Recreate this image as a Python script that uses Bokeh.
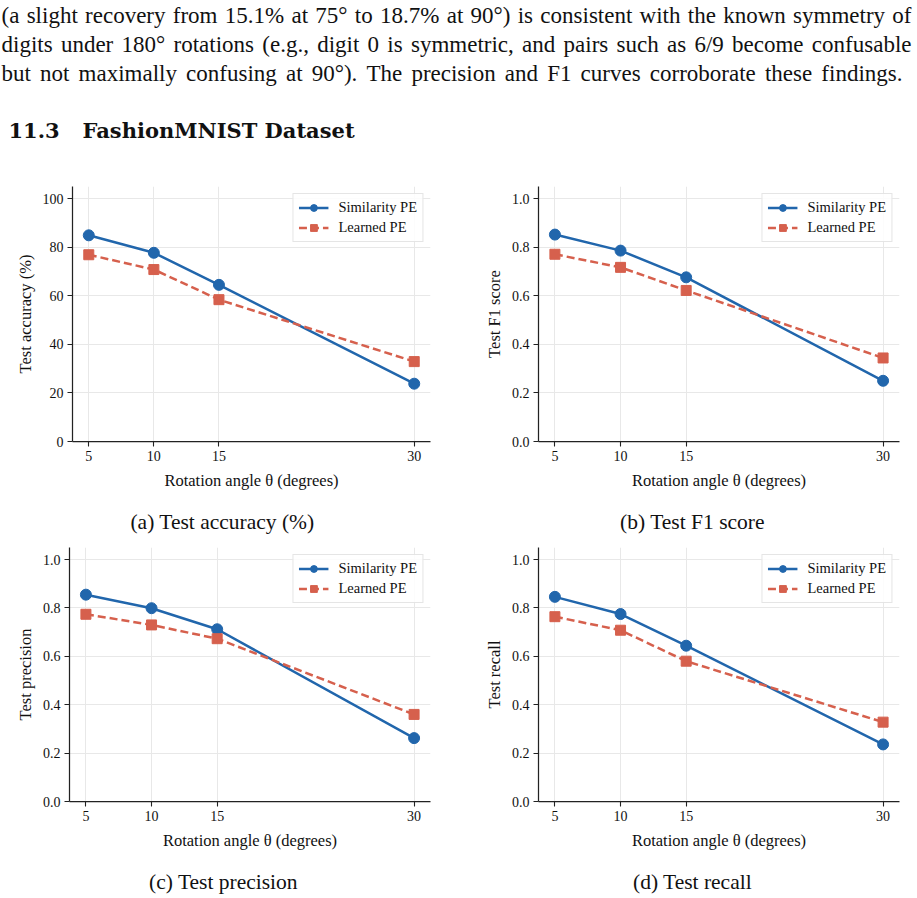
from bokeh.plotting import figure
from bokeh.layouts import column, row
from bokeh.models import Range1d, FixedTicker, PrintfTickFormatter, Legend, LegendItem
from bokeh.core.properties import value
from bokeh.embed import file_html
from bokeh.resources import INLINE

# ---------------- data ----------------
angles = [5, 10, 15, 30]
acc_sim = [84.9, 77.7, 64.5, 23.8]
acc_learn = [76.9, 70.8, 58.4, 32.9]
f1_sim = [0.852, 0.786, 0.676, 0.250]
f1_learn = [0.771, 0.717, 0.622, 0.344]
prec_sim = [0.855, 0.799, 0.712, 0.262]
prec_learn = [0.774, 0.730, 0.673, 0.360]
rec_sim = [0.846, 0.775, 0.644, 0.236]
rec_learn = [0.764, 0.708, 0.580, 0.328]
acc_ticks = [0, 20, 40, 60, 80, 100]
frac_ticks = [0.0, 0.2, 0.4, 0.6, 0.8, 1.0]
series_names = ["Similarity PE", "Learned PE"]
x_label = "Rotation angle \u03b8 (degrees)"
y_labels = ["Test accuracy (%)", "Test F1 score", "Test precision", "Test recall"]
captions = ["(a) Test accuracy (%)", "(b) Test F1 score", "(c) Test precision", "(d) Test recall"]

para_lines = [
    "(a slight recovery from 15.1% at 75\u00b0 to 18.7% at 90\u00b0) is consistent with the known symmetry of",
    "digits under 180\u00b0 rotations (e.g., digit 0 is symmetric, and pairs such as 6/9 become confusable",
    "but not maximally confusing at 90\u00b0). The precision and F1 curves corroborate these findings.",
]
heading_num = "11.3"
heading_text = "FashionMNIST Dataset"

BLUE = "#2166ac"
RED = "#d6604d"
SERIF = "Liberation Serif"
INK = "#111111"

# Times / Liberation Serif advance widths (1/1000 em) used to justify the paragraph
TW = {" ": 250, "(": 333, ")": 333, "%": 833, ".": 250, ",": 250, "/": 278, "\u00b0": 400,
      "a": 444, "b": 500, "c": 444, "d": 500, "e": 444, "f": 333, "g": 500, "h": 500,
      "i": 278, "j": 278, "k": 500, "l": 278, "m": 778, "n": 500, "o": 500, "p": 500,
      "q": 500, "r": 333, "s": 389, "t": 278, "u": 500, "v": 500, "w": 722, "x": 500,
      "y": 500, "z": 444, "T": 611, "F": 556}


def word_width(w, size):
    return sum(TW.get(ch, 500) for ch in w) / 1000.0 * size


def justify(line, x0, x1, size):
    words = line.split(" ")
    widths = [word_width(w, size) for w in words]
    gap = (x1 - x0 - sum(widths)) / (len(words) - 1)
    xs, x = [], x0
    for wd in widths:
        xs.append(x)
        x += wd + gap
    return words, xs


def panel(ys, yl, ylabel, yticks, ymax, fmt, w, h, bl, br, bt, bb):
    p = figure(width=w, height=h, x_range=Range1d(3.75, 31.25), y_range=Range1d(0, ymax),
               output_backend="svg", toolbar_location=None,
               min_border_left=bl, min_border_right=br, min_border_top=bt, min_border_bottom=bb)
    p.outline_line_color = None
    p.background_fill_color = "white"
    p.border_fill_color = "white"

    p.xaxis.ticker = FixedTicker(ticks=angles)
    p.yaxis.ticker = FixedTicker(ticks=yticks)
    if fmt:
        p.yaxis.formatter = PrintfTickFormatter(format=fmt)
    for ax in (p.xaxis, p.yaxis):
        ax.axis_line_color = "#222222"
        ax.axis_line_width = 1.25
        ax.major_tick_line_color = "#222222"
        ax.major_tick_line_width = 1.1
        ax.major_tick_out = 5
        ax.major_tick_in = 0
        ax.minor_tick_line_color = None
        ax.major_label_text_font = SERIF
        ax.major_label_text_font_size = "14px"
        ax.major_label_text_color = INK
        ax.axis_label_text_font = SERIF
        ax.axis_label_text_font_style = "normal"
        ax.axis_label_text_font_size = "16.5px"
        ax.axis_label_text_color = INK
        ax.major_label_standoff = 4
        ax.axis_label_standoff = 7
    p.yaxis.axis_label_standoff = 5
    p.xaxis.axis_label = x_label
    p.yaxis.axis_label = ylabel
    p.grid.grid_line_color = "#e8e8e8"
    p.grid.grid_line_width = 1

    r1 = p.line(angles, ys, line_color=BLUE, line_width=2.5)
    r1m = p.scatter(angles, ys, marker="circle", size=11, fill_color=BLUE, line_color=BLUE)
    r2 = p.line(angles, yl, line_color=RED, line_width=2.5, line_dash="8 4")
    r2m = p.scatter(angles, yl, marker="square", size=10, fill_color=RED, line_color=RED)

    legend = Legend(items=[LegendItem(label=series_names[0], renderers=[r1, r1m]),
                           LegendItem(label=series_names[1], renderers=[r2, r2m])],
                    location="top_right", margin=7, padding=5, spacing=3,
                    glyph_width=30, glyph_height=17, label_height=17, label_standoff=10,
                    label_text_font=SERIF, label_text_font_size="14.5px",
                    label_text_color=INK,
                    border_line_color="#cccccc", border_line_width=1,
                    background_fill_color="white", background_fill_alpha=0.85)
    p.add_layout(legend)
    return p


def text_strip(height):
    s = figure(width=917, height=height, x_range=Range1d(0, 917), y_range=Range1d(height, 0),
               output_backend="svg", toolbar_location=None, min_border=0,
               x_axis_type=None, y_axis_type=None)
    s.outline_line_color = None
    s.grid.grid_line_color = None
    s.background_fill_color = "white"
    s.border_fill_color = "white"
    return s


fa = panel(acc_sim, acc_learn, y_labels[0], acc_ticks, 105, None, 458, 330, 72, 28, 16, 59)
fb = panel(f1_sim, f1_learn, y_labels[1], frac_ticks, 1.05, "%.1f", 459, 330, 80, 18, 16, 59)
fc = panel(prec_sim, prec_learn, y_labels[2], frac_ticks, 1.05, "%.1f", 458, 318, 69, 28, 7, 57)
fd = panel(rec_sim, rec_learn, y_labels[3], frac_ticks, 1.05, "%.1f", 459, 318, 80, 18, 7, 57)

# ---- top text block (paragraph + section heading) ----
pt = text_strip(170)
PSIZE = 23
ends = [911, 911, 902]
baselines = [15, 44, 73]
wx, wy, wt = [], [], []
for line, x1, yb in zip(para_lines, ends, baselines):
    words, xs = justify(line, 1, x1, PSIZE)
    wt += words
    wx += xs
    wy += [yb] * len(words)
pt.text(x=wx, y=wy, text=wt, text_font=value(SERIF), text_font_size=f"{PSIZE}px",
        text_baseline="alphabetic", text_align="left", text_color=INK)
pt.text(x=[8, 82], y=[130, 130], text=[heading_num, heading_text], text_font=value("DejaVu Serif"),
        text_font_style="bold", text_font_size="21px", text_baseline="alphabetic", text_color=INK)

# ---- caption strips ----
cap1 = text_strip(40)
cap1.text(x=[222, 692], y=[21, 21], text=captions[:2], text_font=value(SERIF),
          text_font_size="21.5px", text_align="center", text_baseline="middle", text_color=INK)
cap2 = text_strip(40)
cap2.text(x=[223, 692], y=[23, 23], text=captions[2:], text_font=value(SERIF),
          text_font_size="21.5px", text_align="center", text_baseline="middle", text_color=INK)

layout = column(pt, row(fa, fb, spacing=0), cap1, row(fc, fd, spacing=0), cap2, spacing=0)

open("out.html", "w").write(file_html(layout, INLINE))
